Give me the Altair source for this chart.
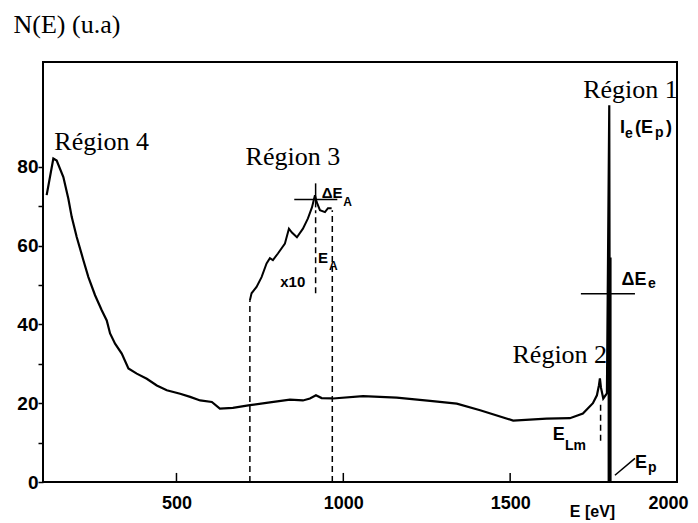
import altair as alt
import pandas as pd

# Main spectrum N(E)
spec_E = [111, 131, 141, 161, 176, 186, 201, 221, 236, 256, 276, 291, 301, 316, 336, 356, 381, 411, 441, 471,
          511, 541, 571, 606, 630, 669, 720, 780, 840, 879, 900, 918, 935, 969, 1059, 1160, 1260, 1340, 1410,
          1509, 1609, 1679, 1718, 1748, 1760, 1766, 1769, 1772, 1779, 1790, 1797, 1799]
spec_N = [72.8, 82.1, 81.6, 77.4, 71.9, 67.3, 62.2, 56.3, 52.0, 47.4, 43.6, 41.0, 37.7, 35.1, 32.6, 28.8, 27.5,
          26.2, 24.5, 23.3, 22.4, 21.6, 20.7, 20.3, 18.6, 18.8, 19.5, 20.2, 20.9, 20.7, 21.2, 22.0, 21.3, 21.2,
          21.8, 21.4, 20.6, 19.9, 18.2, 15.6, 16.1, 16.2, 17.4, 20.0, 22.0, 24.5, 26.3, 24.0, 21.2, 22.5, 95.6, 0.0]

# x10 magnified Auger region
x10_E = [720, 725, 740, 755, 770, 780, 789, 804, 825, 837, 846, 861, 879, 894, 906, 915, 920, 930, 945, 954, 965]
x10_N = [46.1, 47.9, 49.5, 52.0, 55.5, 56.8, 56.3, 58.0, 60.5, 64.3, 63.3, 62.1, 64.3, 66.9, 69.7, 72.8, 71.1,
         69.0, 68.5, 69.5, 69.5]

# elastic peak thick base
elastic_E = [1798]
elastic_lo = [0.0]
elastic_top = [57.0]

# dashed guide lines: E, from, to
dash_E = [720, 917, 967, 1771]
dash_lo = [0.0, 47.9, 0.0, 10.5]
dash_hi = [46.1, 69.0, 69.0, 20.0]

# solid markers (width bars, cross, leader)
seg_x1 = [853, 917, 1712, 1814]
seg_x2 = [982, 917, 1874, 1874]
seg_y1 = [71.7, 69.7, 47.8, 1.7]
seg_y2 = [71.7, 75.8, 47.8, 6.0]

# inward x ticks
xtick_E = [500, 1000, 1500]
xtick_lo = [0.0, 0.0, 0.0]
xtick_hi = [2.3, 2.3, 2.3]

# region labels
region_text = ["Région 4", "Région 3", "Région 1", "Région 2"]
region_E = [134, 707, 1719, 1507]
region_N = [84.2, 80.4, 97.4, 30.2]

# annotations of region 3 (main part / subscripts)
annL_text = ["x10", "E", "ΔE"]
annL_E = [811, 924, 935]
annL_N = [49.4, 55.5, 72.0]
subL_text = ["A", "A"]
subL_E = [957, 1000]
subL_N = [53.7, 70.0]

# annotations near the elastic peak (main part / subscripts)
annR_text = ["ΔE", "I", "(E", ")", "E", "E"]
annR_E = [1834, 1829, 1874, 1967, 1628, 1874]
annR_N = [49.9, 88.5, 88.5, 88.5, 10.6, 3.5]
subR_text = ["e", "e", "p", "Lm", "p"]
subR_E = [1913, 1844, 1934, 1664, 1913]
subR_N = [49.2, 87.2, 87.6, 8.0, 2.5]

xscale = alt.Scale(domain=[100, 2000], nice=False, zero=False)
yscale = alt.Scale(domain=[0, 106.6], nice=False)

SANS = "Liberation Sans"
SERIF = "Liberation Serif"

spec_df = pd.DataFrame({"E": spec_E, "N": spec_N})
x10_df = pd.DataFrame({"E": x10_E, "N": x10_N})

base_x = alt.X("E:Q", scale=xscale,
               axis=alt.Axis(values=[500, 1000, 1500, 2000], format="d", ticks=False, domain=False, grid=False,
                             labelFont=SANS, labelFontSize=18, labelFontWeight="bold", labelColor="black",
                             labelPadding=12, labelFlush=1, labelFlushOffset=11,
                             title="E [eV]", titleFont=SANS, titleFontSize=16, titleFontWeight="bold",
                             titleColor="black", titleAnchor="start", titleAlign="center",
                             titleBaseline="alphabetic", titleX=549, titleY=34))
base_y = alt.Y("N:Q", scale=yscale,
               axis=alt.Axis(values=[0, 10, 20, 30, 40, 50, 60, 70, 80], tickSize=5, tickWidth=1.5,
                             tickColor="black", domain=False, grid=False,
                             labelExpr="datum.value % 20 == 0 ? datum.label : ''",
                             labelFont=SANS, labelFontSize=19, labelFontWeight="bold", labelColor="black",
                             labelPadding=0,
                             title="N(E) (u.a)", titleFont=SERIF, titleFontSize=26, titleFontWeight="normal",
                             titleColor="black", titleAngle=0, titleAlign="left", titleBaseline="alphabetic",
                             titleX=-30, titleY=-30))

spectrum = alt.Chart(spec_df).mark_line(color="black", strokeWidth=2.2).encode(x=base_x, y=base_y)

x10 = alt.Chart(x10_df).mark_line(color="black", strokeWidth=2).encode(x="E:Q", y="N:Q")

elastic = alt.Chart(pd.DataFrame({"E": elastic_E, "lo": elastic_lo, "top": elastic_top})).mark_rule(
    color="black", strokeWidth=4).encode(x="E:Q", y="lo:Q", y2="top:Q")

dashes = alt.Chart(pd.DataFrame({"E": dash_E, "lo": dash_lo, "hi": dash_hi})).mark_rule(
    color="black", strokeWidth=1.5, strokeDash=[6, 4]).encode(x="E:Q", y="lo:Q", y2="hi:Q")

segs = alt.Chart(pd.DataFrame({"xa": seg_x1, "xb": seg_x2, "ya": seg_y1, "yb": seg_y2})).mark_rule(
    color="black", strokeWidth=1.5).encode(x="xa:Q", x2="xb:Q", y="ya:Q", y2="yb:Q")

xticks = alt.Chart(pd.DataFrame({"E": xtick_E, "lo": xtick_lo, "hi": xtick_hi})).mark_rule(
    color="black", strokeWidth=1.5).encode(x="E:Q", y="lo:Q", y2="hi:Q")

regions = alt.Chart(pd.DataFrame({"E": region_E, "N": region_N, "t": region_text})).mark_text(
    font=SERIF, fontSize=26, align="left", baseline="alphabetic", color="black").encode(
    x="E:Q", y="N:Q", text="t:N")


def text_layer(E, N, T, size):
    return alt.Chart(pd.DataFrame({"E": E, "N": N, "t": T})).mark_text(
        font=SANS, fontSize=size, fontWeight="bold", align="left", baseline="alphabetic",
        color="black").encode(x="E:Q", y="N:Q", text="t:N")


annL = text_layer(annL_E, annL_N, annL_text, 15)
subL = text_layer(subL_E, subL_N, subL_text, 12)
annR = text_layer(annR_E, annR_N, annR_text, 18)
subR = text_layer(subR_E, subR_N, subR_text, 14)

chart = alt.layer(spectrum, x10, elastic, dashes, segs, xticks, regions, annL, subL, annR, subR).properties(
    width=634, height=420,
    autosize=alt.AutoSizeParams(type="none"),
    padding={"left": 35, "top": 54, "right": 13, "bottom": 40},
    background="white",
).configure_view(stroke="black", strokeWidth=2)

chart.save("out.html", embed_options={"renderer": "svg", "actions": False})
